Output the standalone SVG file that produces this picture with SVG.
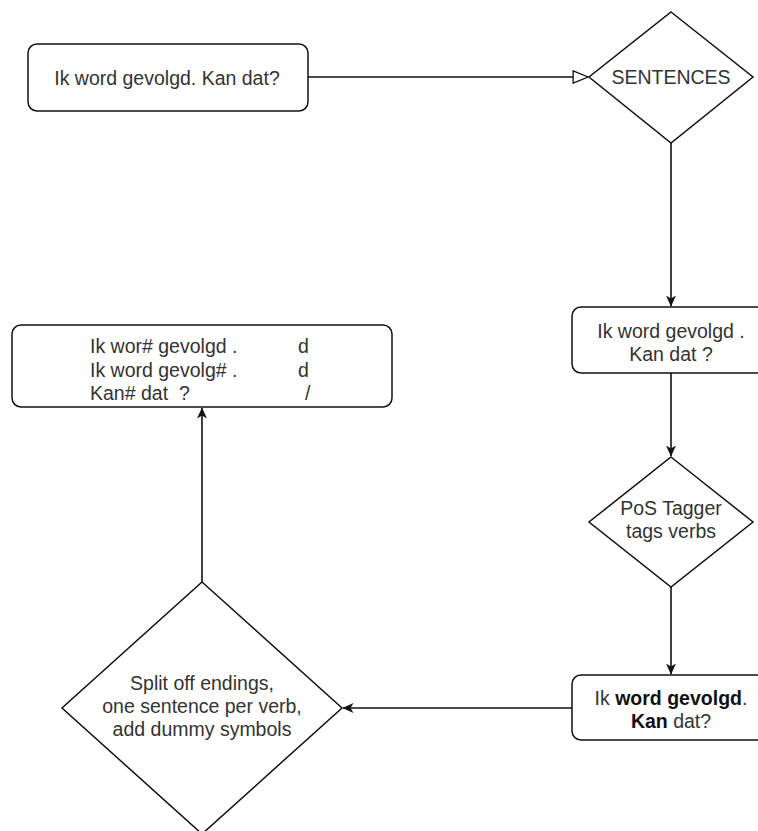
<svg xmlns="http://www.w3.org/2000/svg" width="758" height="831" viewBox="0 0 758 831">
<defs>
<style>
.box{fill:#fff;stroke:#111;stroke-width:1.5}
.edge{fill:none;stroke:#111;stroke-width:1.6}
text{font-family:"Liberation Sans",Arial,sans-serif;font-size:19.5px;fill:#333}
.c{text-anchor:middle}
.b{font-weight:bold;fill:#111}
</style>
<marker id="filled" viewBox="0 0 11 10" refX="10.5" refY="5" markerWidth="11" markerHeight="10" markerUnits="userSpaceOnUse" orient="auto">
<path d="M0,0 L11,5 L0,10 L3,5 Z" fill="#111"/>
</marker>
<marker id="open" viewBox="0 0 20 16" refX="18" refY="8" markerWidth="18" markerHeight="14" markerUnits="userSpaceOnUse" orient="auto">
<path d="M1,1 L18,8 L1,15 Z" fill="#fff" stroke="#111" stroke-width="1.5"/>
</marker>
</defs>
<rect width="758" height="831" fill="#fff"/>
<g id="connectors">
<path class="edge" d="M308,77 L588,77" marker-end="url(#open)"/>
<path class="edge" d="M671,143 L671,306" marker-end="url(#filled)"/>
<path class="edge" d="M671,373 L671,456" marker-end="url(#filled)"/>
<path class="edge" d="M671,587 L671,674" marker-end="url(#filled)"/>
<path class="edge" d="M572,708 L343,708" marker-end="url(#filled)"/>
<path class="edge" d="M202,582 L202,408" marker-end="url(#filled)"/>
</g>
<g id="input">
<rect class="box" x="28" y="44" width="280" height="67" rx="9"/>
<text class="c" x="167" y="85">Ik word gevolgd. Kan dat?</text>
</g>
<g id="sentences">
<polygon class="box" points="671,12 753,77 671,143 589,77"/>
<text class="c" x="671" y="84">SENTENCES</text>
</g>
<g id="split-sentences">
<rect class="box" x="572" y="307" width="198" height="66" rx="9"/>
<text class="c" x="671" y="338">Ik word gevolgd .</text>
<text class="c" x="671" y="361">Kan dat ?</text>
</g>
<g id="pos-tagger">
<polygon class="box" points="671,457 753,522 671,587 589,522"/>
<text class="c" x="671" y="515">PoS Tagger</text>
<text class="c" x="671" y="538">tags verbs</text>
</g>
<g id="tagged">
<rect class="box" x="572" y="675" width="198" height="65" rx="9"/>
<text class="c" x="671" y="705">Ik <tspan class="b">word gevolgd</tspan>.</text>
<text class="c" x="671" y="728"><tspan class="b">Kan</tspan> dat?</text>
</g>
<g id="split-endings">
<polygon class="box" points="202,582 342,708 202,834 62,708"/>
<text class="c" x="202" y="690">Split off endings,</text>
<text class="c" x="202" y="713">one sentence per verb,</text>
<text class="c" x="202" y="736">add dummy symbols</text>
</g>
<g id="output">
<rect class="box" x="12" y="325" width="380" height="82" rx="9"/>
<text x="90" y="353">Ik wor# gevolgd .</text>
<text x="298" y="353">d</text>
<text x="90" y="377">Ik word gevolg# .</text>
<text x="298" y="377">d</text>
<text x="90" y="400" xml:space="preserve">Kan# dat  ?</text>
<text x="305" y="400">/</text>
</g>
</svg>
